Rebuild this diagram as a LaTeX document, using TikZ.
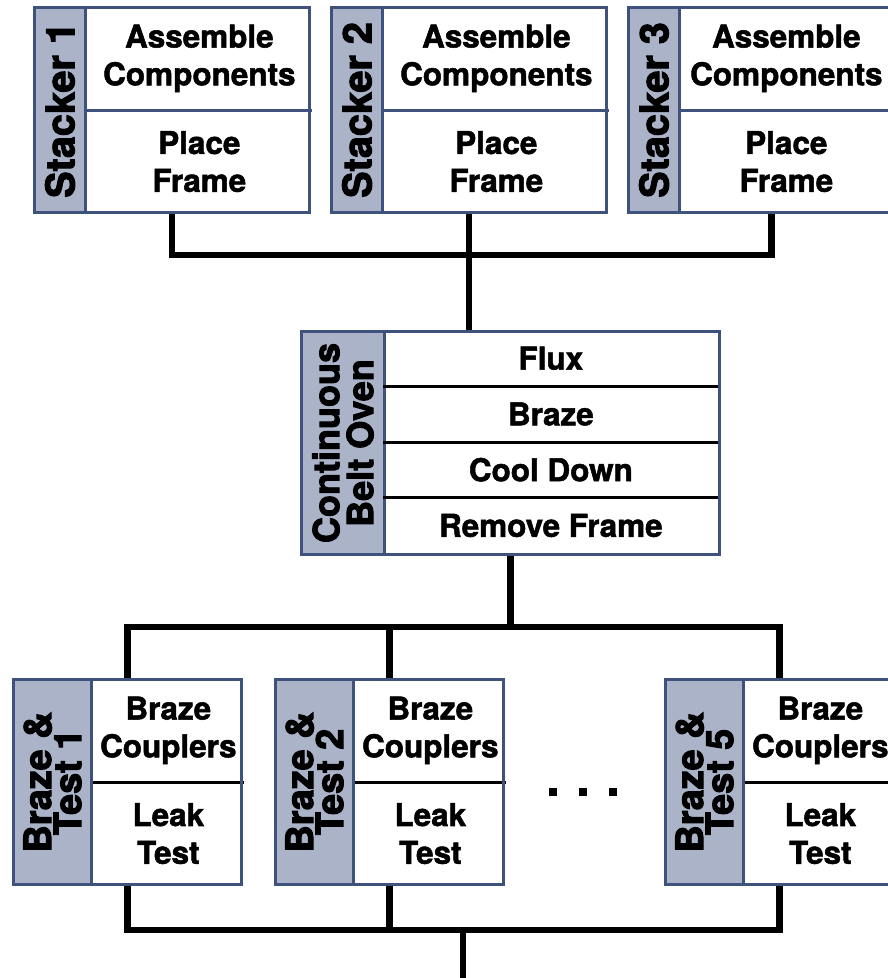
\documentclass[tikz,border=0pt]{standalone}
\usepackage{fontspec}
\setmainfont{TeX Gyre Heros}
\newfontfamily\cellfont{TeX Gyre Heros Bold}[FakeBold=1.6]
\newfontfamily\heavyfont{TeX Gyre Heros Bold}[FakeBold=2.6]
\usetikzlibrary{positioning}
\definecolor{edge}{RGB}{63, 81, 125}
\definecolor{side}{RGB}{171, 179, 200}
\tikzset{
	boxframe/.style={draw=edge, line width=1.7pt, inner sep=0pt, anchor=north west},
	sidebox/.style={fill=side, draw=edge, line width=1.7pt, inner sep=0pt, anchor=north west},
	sidetext/.style={rotate=90, align=center, inner sep=0pt},
	cell/.style={inner sep=0pt, anchor=north west, align=center, font=\fontsize{17.9}{21.5}\selectfont\cellfont},
	divider/.style={line width=1.7pt},
	link/.style={line width=3.6pt},
	dotbox/.style={fill=black, minimum size=0.16cm, inner sep=0pt}
}

\begin{document}
\begin{tikzpicture}
			\useasboundingbox (0,0) rectangle (17.76,-19.56);
			\clip (0,0) rectangle (17.76,-19.56);

			% stackers
			\foreach \i/\x/\w/\f in {1/0.66/4.48/4.48, 2/6.60/4.48/4.48, 3/12.54/4.20/4.70} {
				\node[sidebox, minimum width=1.02cm, minimum height=4.10cm] (sl\i) at (\x,-0.12) {};
				\node[sidetext, font=\fontsize{22.5}{20}\selectfont\heavyfont] (st\i) at (sl\i.center) {Stacker \i};
				\node[cell, minimum width=\w cm, minimum height=2.08cm] (sa\i) at (sl\i.north east) {Assemble\\Components};
				\node[cell, minimum width=\w cm, minimum height=2.02cm] (sp\i) at (sa\i.south west) {Place\\Frame};
				\draw[draw=edge, divider] (sa\i.south west) -- (sa\i.south east);
				\node[boxframe, minimum width=\f cm+1.02cm, minimum height=4.10cm] (stk\i) at (\x,-0.12) {};
			}

			% oven
			\node[sidebox, minimum width=1.66cm, minimum height=4.46cm] (ol) at (6.00,-6.60) {};
			\node[sidetext, font=\fontsize{20.5}{19.3}\selectfont\heavyfont] (ot) at (ol.center) {Continuous\\Belt Oven};
			\foreach \j/\t in {1/Flux, 2/Braze, 3/Cool Down, 4/Remove Frame} {
				\pgfmathsetmacro{\yy}{-6.60-(\j-1)*1.115}
				\node[cell, minimum width=6.70cm, minimum height=1.115cm] (oc\j) at (7.66,\yy) {\t};
			}
			\foreach \j in {1,2,3} {
				\draw[divider] (oc\j.south west) -- (oc\j.south east);
			}
			\node[boxframe, minimum width=8.36cm, minimum height=4.46cm] (oven) at (6.00,-6.60) {};

			% braze & test
			\foreach \i/\x in {1/0.24, 2/5.48, 5/13.28} {
				\node[sidebox, minimum width=1.56cm, minimum height=4.10cm] (bl\i) at (\x,-13.56) {};
				\node[sidetext, font=\fontsize{21.5}{15.3}\selectfont\heavyfont] (bt\i) at (bl\i.center) {Braze \&\\Test \i};
				\node[cell, minimum width=3.00cm, minimum height=2.08cm] (bc\i) at (bl\i.north east) {Braze\\Couplers};
				\node[cell, minimum width=3.00cm, minimum height=2.02cm] (bk\i) at (bc\i.south west) {Leak\\Test};
				\draw[divider] (bc\i.south west) -- (bc\i.south east);
				\node[boxframe, minimum width=4.56cm, minimum height=4.10cm] (bnt\i) at (\x,-13.56) {};
			}

			% dots
			\foreach \k in {0,1,2} {
				\node[dotbox] (dot\k) at (11.06+\k*0.6,-15.84) {};
			}

			% liens
			\coordinate (topbus) at (stk2.south |- 0,-5.10);
			\draw[link] (stk1.south) |- (topbus) -| (stk3.south);
			\draw[link] (stk2.south) -- (topbus);
			\draw[link] (topbus) -- (topbus |- oven.north);

			\coordinate (midbus) at (oven.south |- 0,-12.54);
			\draw[link] (oven.south) -- (midbus);
			\draw[link] (bnt1.north) |- (midbus) -| (bnt5.north);
			\draw[link] (bnt2.north) -- (bnt2.north |- midbus);

			\coordinate (lowbus) at (9.26,-18.60);
			\coordinate (exit) at (9.26,-19.80);
			\draw[link] (bnt1.south) |- (lowbus) -| (bnt5.south);
			\draw[link] (bnt2.south) -- (bnt2.south |- lowbus);
			\draw[link] (lowbus) -- (exit);
		\end{tikzpicture}
\end{document}
